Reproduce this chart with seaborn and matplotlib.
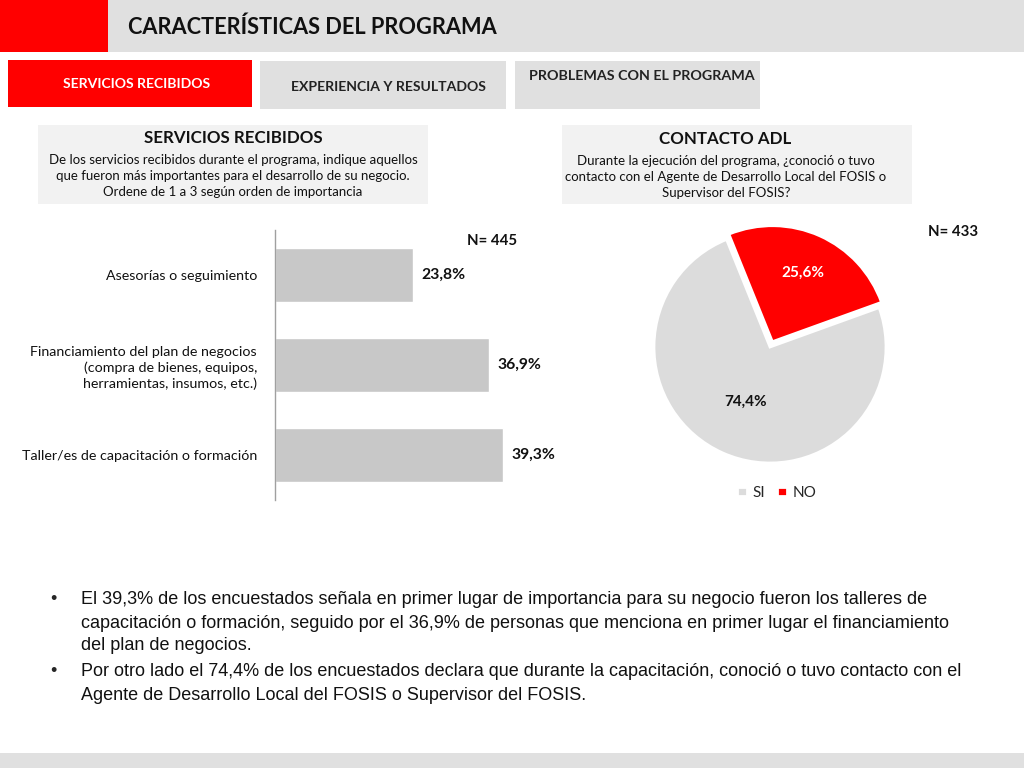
"""Slide: características del programa (servicios recibidos + contacto ADL)."""

import matplotlib

matplotlib.use("Agg")

import matplotlib.pyplot as plt
import numpy as np
import pandas as pd
import seaborn as sns
from matplotlib.patches import Rectangle

W, H = 1024, 768

# bar chart data
servicios = [
    "Asesorías o seguimiento",
    "Financiamiento del plan de negocios\n(compra de bienes, equipos,\nherramientas, insumos, etc.)",
    "Taller/es de capacitación o formación",
]
servicios_pct = [23.8, 36.9, 39.3]
n_servicios = 445

# pie data
contacto = ["SI", "NO"]
contacto_pct = [74.4, 25.6]
n_contacto = 433

RED = "#ff0000"
GRAY_BAND = "#e0e0e0"
BOX = "#f2f2f2"
BAR = "#c8c8c8"
PIE_GRAY = "#dcdcdc"

FONT = ["Lato", "DejaVu Sans"]
BODY_FONT = ["Liberation Sans", "DejaVu Sans"]


def fx(x):
    return x / W


def fy(y):
    return 1 - y / H


def rect(fig, x0, y0, x1, y1, color):
    fig.patches.append(
        Rectangle((fx(x0), fy(y1)), fx(x1) - fx(x0), fy(y0) - fy(y1),
                  transform=fig.transFigure, facecolor=color, edgecolor="none", zorder=0)
    )


def pct(v):
    return f"{v:.1f}%".replace(".", ",")


sns.set_theme(style="white")
plt.rcParams["font.family"] = FONT

fig = plt.figure(figsize=(W / 100, H / 100), dpi=100)

# header
rect(fig, 0, 0, 108, 52, RED)
rect(fig, 108, 0, W, 52, GRAY_BAND)
fig.text(fx(128), fy(27), "CARACTERÍSTICAS DEL PROGRAMA", fontsize=15.7,
         fontweight="bold", va="center", ha="left", color="#111111")

# tabs
rect(fig, 8, 60, 252, 107, RED)
fig.text(fx(137), fy(84), "SERVICIOS RECIBIDOS", fontsize=10.1, fontweight="bold",
         color="white", ha="center", va="center")
rect(fig, 260, 61, 506, 109, GRAY_BAND)
fig.text(fx(388), fy(87), "EXPERIENCIA Y RESULTADOS", fontsize=10.1, fontweight="bold",
         color="#222222", ha="center", va="center")
rect(fig, 515, 61, 760, 109, GRAY_BAND)
fig.text(fx(642), fy(76), "PROBLEMAS CON EL PROGRAMA", fontsize=10.3, fontweight="bold",
         color="#222222", ha="center", va="center")

# question boxes
body_q1 = ("De los servicios recibidos durante el programa, indique aquellos\n"
           "que fueron más importantes para el desarrollo de su negocio.\n"
           "Ordene de 1 a 3 según orden de importancia")
body_q2 = ("Durante la ejecución del programa, ¿conoció o tuvo\n"
           "contacto con el Agente de Desarrollo Local del FOSIS o\n"
           "Supervisor del FOSIS?")

rect(fig, 38, 125, 428, 204, BOX)
fig.text(fx(233), fy(138), "SERVICIOS RECIBIDOS", fontsize=12.2, fontweight="bold",
         ha="center", va="center", color="#111111")
fig.text(fx(233), fy(176), body_q1, fontsize=9.5, ha="center", va="center",
         linespacing=1.42, color="#111111")

rect(fig, 562, 125, 912, 204, BOX)
fig.text(fx(725), fy(139), "CONTACTO ADL", fontsize=12.2, fontweight="bold",
         ha="center", va="center", color="#111111")
fig.text(fx(726), fy(177), body_q2, fontsize=9.5, ha="center", va="center",
         linespacing=1.42, color="#111111")

# bar chart
bar_df = pd.DataFrame({"servicio": servicios, "pct": servicios_pct})
x_max = 45
px_per_unit = 5.8
ax_l, ax_t, ax_b = 275, 230, 500
ax_r = ax_l + x_max * px_per_unit
ax = fig.add_axes([fx(ax_l), fy(ax_b), fx(ax_r) - fx(ax_l), fy(ax_t) - fy(ax_b)])
sns.barplot(data=bar_df, x="pct", y="servicio", orient="h", color=BAR,
            width=0.59, saturation=1, ax=ax)
ax.set_xlim(0, x_max)
ax.set_ylim(len(servicios) - 0.5, -0.5)
ax.set_xlabel("")
ax.set_ylabel("")
ax.set_xticks([])
for side in ["top", "right", "bottom"]:
    ax.spines[side].set_visible(False)
ax.spines["left"].set_color("#a0a0a0")
ax.spines["left"].set_linewidth(1)
ax.set_yticks(range(len(servicios)))
ax.set_yticklabels(servicios, fontsize=10.3, color="#111111", linespacing=1.35)
ax.set_yticks([i - 0.5 for i in range(len(servicios) + 1)], minor=True)
ax.tick_params(axis="y", which="major", length=0, pad=13)
ax.tick_params(axis="y", which="minor", length=5, color="#a0a0a0", width=1, direction="out")
ax.set_facecolor("none")
for container in ax.containers:
    ax.bar_label(container, labels=[pct(v) for v in servicios_pct], padding=6,
                 fontsize=11.3, fontweight="bold", color="#111111")
fig.text(fx(492), fy(241), f"N= {n_servicios}", fontsize=10.8, fontweight="bold",
         ha="center", va="center", color="#111111")

# pie chart
cx, cy, r = 770, 347, 116
half = 1.2 * r
pax = fig.add_axes([fx(cx - half), fy(cy + half), 2 * half / W, 2 * half / H])
wedges, _ = pax.pie(contacto_pct, colors=[PIE_GRAY, RED], startangle=112,
                    counterclock=True, explode=[0, 0.05],
                    wedgeprops=dict(edgecolor="white", linewidth=2))
pax.set_xlim(-1.2, 1.2)
pax.set_ylim(-1.2, 1.2)
pax.set_aspect("equal")
pax.axis("off")

label_dist = [0.52, 0.70]
label_color = ["#111111", "white"]
for w, v, d, c in zip(wedges, contacto_pct, label_dist, label_color):
    mid = np.deg2rad((w.theta1 + w.theta2) / 2)
    pax.text(d * np.cos(mid), d * np.sin(mid), pct(v), ha="center", va="center",
             fontsize=11, fontweight="bold", color=c)

fig.legend(wedges, contacto, loc="center", bbox_to_anchor=(fx(777), fy(493)),
           ncol=2, frameon=False, fontsize=11, handlelength=0.6, handleheight=0.6,
           handletextpad=0.4, columnspacing=0.8)
fig.text(fx(953), fy(232), f"N= {n_contacto}", fontsize=10.8, fontweight="bold",
         ha="center", va="center", color="#111111")

# bullet text
bullets = [
    (600, ["El 39,3% de los encuestados señala en primer lugar de importancia para su negocio fueron los talleres de",
           "capacitación o formación, seguido por el 36,9% de personas que menciona en primer lugar el financiamiento",
           "del plan de negocios."]),
    (672, ["Por otro lado el 74,4% de los encuestados declara que durante la capacitación, conoció o tuvo contacto con el",
           "Agente de Desarrollo Local del FOSIS o Supervisor del FOSIS."]),
]
for y0, lines in bullets:
    fig.text(fx(50), fy(y0), "•", fontsize=13, family=BODY_FONT, va="center", ha="left")
    for i, line in enumerate(lines):
        fig.text(fx(81), fy(y0 + 23 * i), line, fontsize=12.95, family=BODY_FONT,
                 va="center", ha="left", color="#111111")

# footer band
rect(fig, 0, 753, W, 768, GRAY_BAND)

fig.savefig("out.png", dpi=100)
